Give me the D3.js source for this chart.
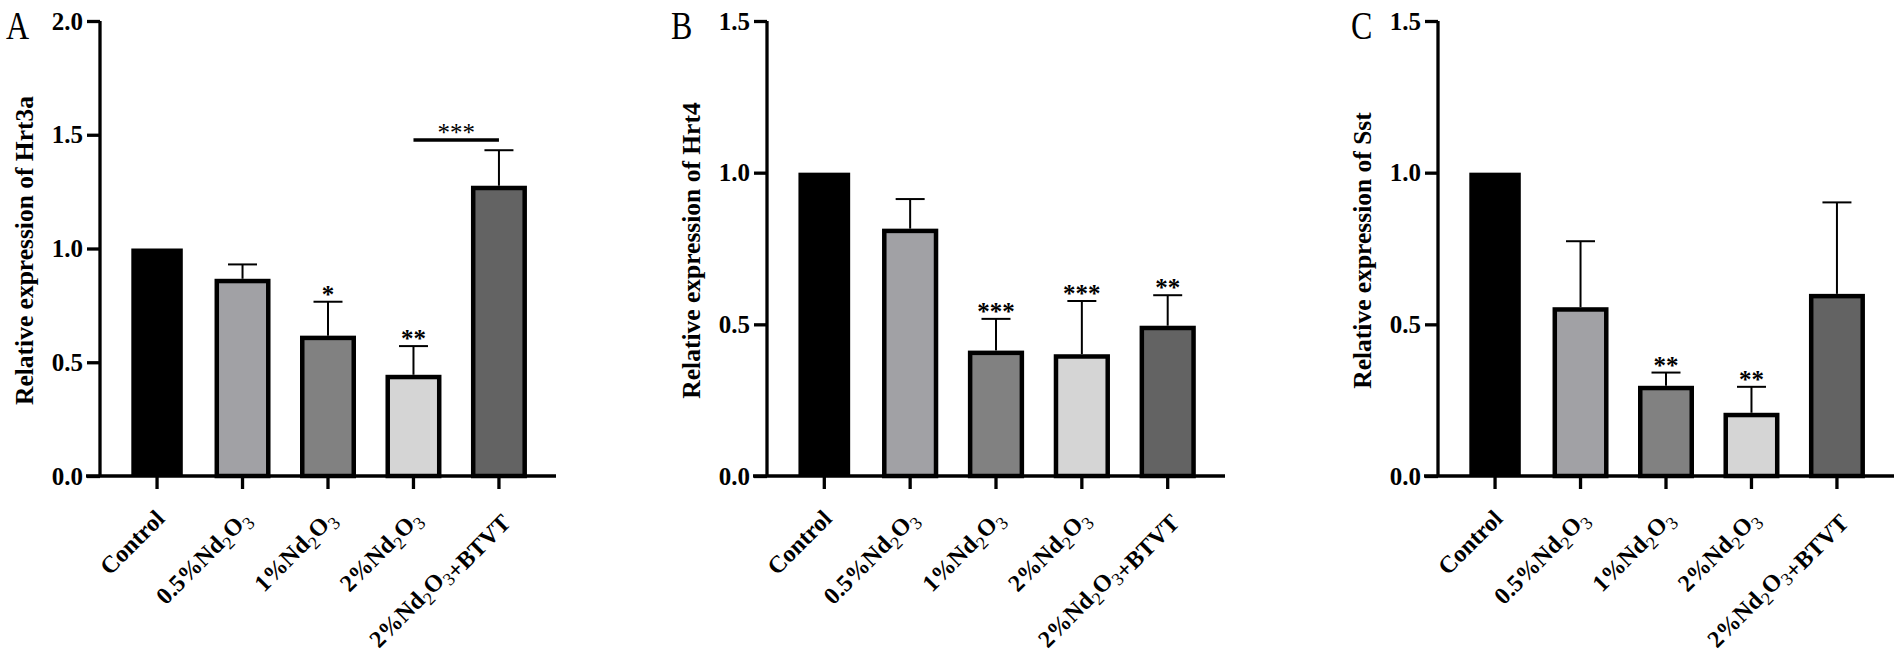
<!DOCTYPE html>
<html>
<head>
<meta charset="utf-8">
<script src="https://cdn.jsdelivr.net/npm/d3@7"></script>
<style>
  html, body { margin: 0; padding: 0; background: #fff; }
  svg { display: block; }
  text { font-family: "Liberation Serif", "Times New Roman", serif; }
</style>
</head>
<body>
<svg id="chart" width="1902" height="657"></svg>
<script>
// ---------- data ----------
const categories = ["Control", "0.5%Nd2O3", "1%Nd2O3", "2%Nd2O3", "2%Nd2O3+BTVT"];
const barColors = ["#000000", "#a1a1a5", "#818181", "#d5d5d5", "#636363"];

const hrt3aMean  = [1.0, 0.857, 0.607, 0.435, 1.266];
const hrt3aSD    = [0, 0.073, 0.159, 0.136, 0.166];
const hrt3aStars = ["", "", "*", "**", ""];

const hrt4Mean   = [1.0, 0.808, 0.406, 0.394, 0.488];
const hrt4SD     = [0, 0.105, 0.112, 0.183, 0.108];
const hrt4Stars  = ["", "", "***", "***", "**"];

const sstMean    = [1.0, 0.549, 0.290, 0.201, 0.593];
const sstSD      = [0, 0.225, 0.051, 0.093, 0.309];
const sstStars   = ["", "", "**", "**", ""];

const ticksA  = [0, 0.5, 1.0, 1.5, 2.0];
const ticksBC = [0, 0.5, 1.0, 1.5];

// comparison bracket in panel A: between group 3 and 4
const bracketA = { from: 3, to: 4, y: 1.477, label: "***" };

// ---------- layout ----------
const panels = [
  { letter: "A", title: "Relative expression of Hrt3a", mean: hrt3aMean, sd: hrt3aSD, stars: hrt3aStars,
    ymax: 2.0, ticks: ticksA, x0: 100, x1: 556, letterX: 6, bracket: bracketA },
  { letter: "B", title: "Relative expression of Hrt4", mean: hrt4Mean, sd: hrt4SD, stars: hrt4Stars,
    ymax: 1.5, ticks: ticksBC, x0: 767, x1: 1225, letterX: 671, bracket: null },
  { letter: "C", title: "Relative expression of Sst", mean: sstMean, sd: sstSD, stars: sstStars,
    ymax: 1.5, ticks: ticksBC, x0: 1438, x1: 1894, letterX: 1351, bracket: null }
];

const yZero = 476, yTop = 21;
const axisW = 3.3, barStroke = 4.5, errW = 2, capW = 29, tickLen = 13;
const starFont = "'Liberation Sans', Arial, sans-serif";

const svg = d3.select("#chart");

function addLabel(sel, str) {
  // render "Nd2O3" with subscripts
  const parts = str.split(/(Nd2O3)/);
  parts.forEach(p => {
    if (p === "Nd2O3") {
      sel.append("tspan").text("Nd");
      sel.append("tspan").attr("font-size", 18).attr("font-weight", "normal").attr("dy", 6).text("2");
      sel.append("tspan").attr("dy", -6).text("O");
      sel.append("tspan").attr("font-size", 18).attr("font-weight", "normal").attr("dy", 6).text("3");
      sel.append("tspan").attr("dy", -6).text("");
    } else if (p.length) {
      sel.append("tspan").text(p);
    }
  });
}

panels.forEach(p => {
  const g = svg.append("g");
  const y = d3.scaleLinear().domain([0, p.ymax]).range([yZero, yTop]);
  const x = d3.scaleBand().domain(categories).range([p.x0, p.x1])
    .paddingInner(0.345).paddingOuter(0.34);
  const bw = x.bandwidth();
  const cx = c => x(c) + bw / 2;

  // bars
  g.selectAll("rect.bar").data(categories).join("rect")
    .attr("class", "bar")
    .attr("x", c => cx(c) - (bw - barStroke) / 2)
    .attr("width", bw - barStroke)
    .attr("y", (c, i) => y(p.mean[i]))
    .attr("height", (c, i) => yZero - y(p.mean[i]))
    .attr("fill", (c, i) => barColors[i])
    .attr("stroke", "#000")
    .attr("stroke-width", (c, i) => i === 0 ? 0 : barStroke);

  // error bars (upper only)
  categories.forEach((c, i) => {
    if (p.sd[i] <= 0) return;
    const top = y(p.mean[i] + p.sd[i]);
    g.append("line").attr("x1", cx(c)).attr("x2", cx(c))
      .attr("y1", y(p.mean[i]) - barStroke / 2).attr("y2", top)
      .attr("stroke", "#000").attr("stroke-width", errW);
    g.append("line").attr("x1", cx(c) - capW / 2).attr("x2", cx(c) + capW / 2)
      .attr("y1", top).attr("y2", top)
      .attr("stroke", "#000").attr("stroke-width", errW);
    if (p.stars[i]) {
      g.append("text").attr("x", cx(c)).attr("y", top + 1)
        .attr("text-anchor", "middle").attr("font-size", 25).attr("font-weight", "bold")
        .attr("font-family", starFont)
        .text(p.stars[i]);
    }
  });

  // comparison bracket
  if (p.bracket) {
    const b = p.bracket;
    const yy = y(b.y);
    g.append("line").attr("x1", cx(categories[b.from])).attr("x2", cx(categories[b.to]))
      .attr("y1", yy).attr("y2", yy).attr("stroke", "#000").attr("stroke-width", 3.3);
    g.append("text").attr("x", (cx(categories[b.from]) + cx(categories[b.to])) / 2).attr("y", yy + 1)
      .attr("text-anchor", "middle").attr("font-size", 25).attr("font-family", starFont)
      .text(b.label);
  }

  // y axis
  const yAxis = d3.axisLeft(y).tickValues(p.ticks).tickFormat(d3.format(".1f"))
    .tickSize(tickLen).tickSizeOuter(0).tickPadding(4);
  const ya = g.append("g").attr("transform", `translate(${p.x0},0)`).call(yAxis);
  ya.select(".domain").attr("stroke-width", axisW).attr("d", `M0,${yZero}V${yTop}`);
  ya.selectAll(".tick line").attr("stroke-width", axisW);
  ya.selectAll(".tick text").attr("font-size", 25).attr("font-weight", "bold")
    .attr("font-family", "'Liberation Serif', serif").attr("fill", "#000");

  // x axis
  const xAxis = d3.axisBottom(x).tickSize(tickLen).tickSizeOuter(0).tickFormat("");
  const xa = g.append("g").attr("transform", `translate(0,${yZero})`).call(xAxis);
  xa.select(".domain").attr("stroke-width", axisW).attr("d", `M${p.x0 - tickLen - 1},0H${p.x1}`);
  xa.selectAll(".tick line").attr("stroke-width", axisW);

  // x labels rotated
  categories.forEach(c => {
    const t = g.append("text")
      .attr("transform", `translate(${cx(c) + 9},${yZero + 44}) rotate(-45)`)
      .attr("text-anchor", "end").attr("font-size", 24).attr("font-weight", "bold");
    addLabel(t, c);
  });

  // y title
  g.append("text")
    .attr("transform", `translate(${p.x0 - 67},${(yZero + yTop) / 2 + 2}) rotate(-90)`)
    .attr("text-anchor", "middle").attr("font-size", 25.5).attr("font-weight", "bold")
    .text(p.title);

  // panel letter
  g.append("text")
    .attr("transform", `translate(${p.letterX},39) scale(0.8,1)`)
    .attr("font-size", 40).text(p.letter);
});
</script>
</body>
</html>
